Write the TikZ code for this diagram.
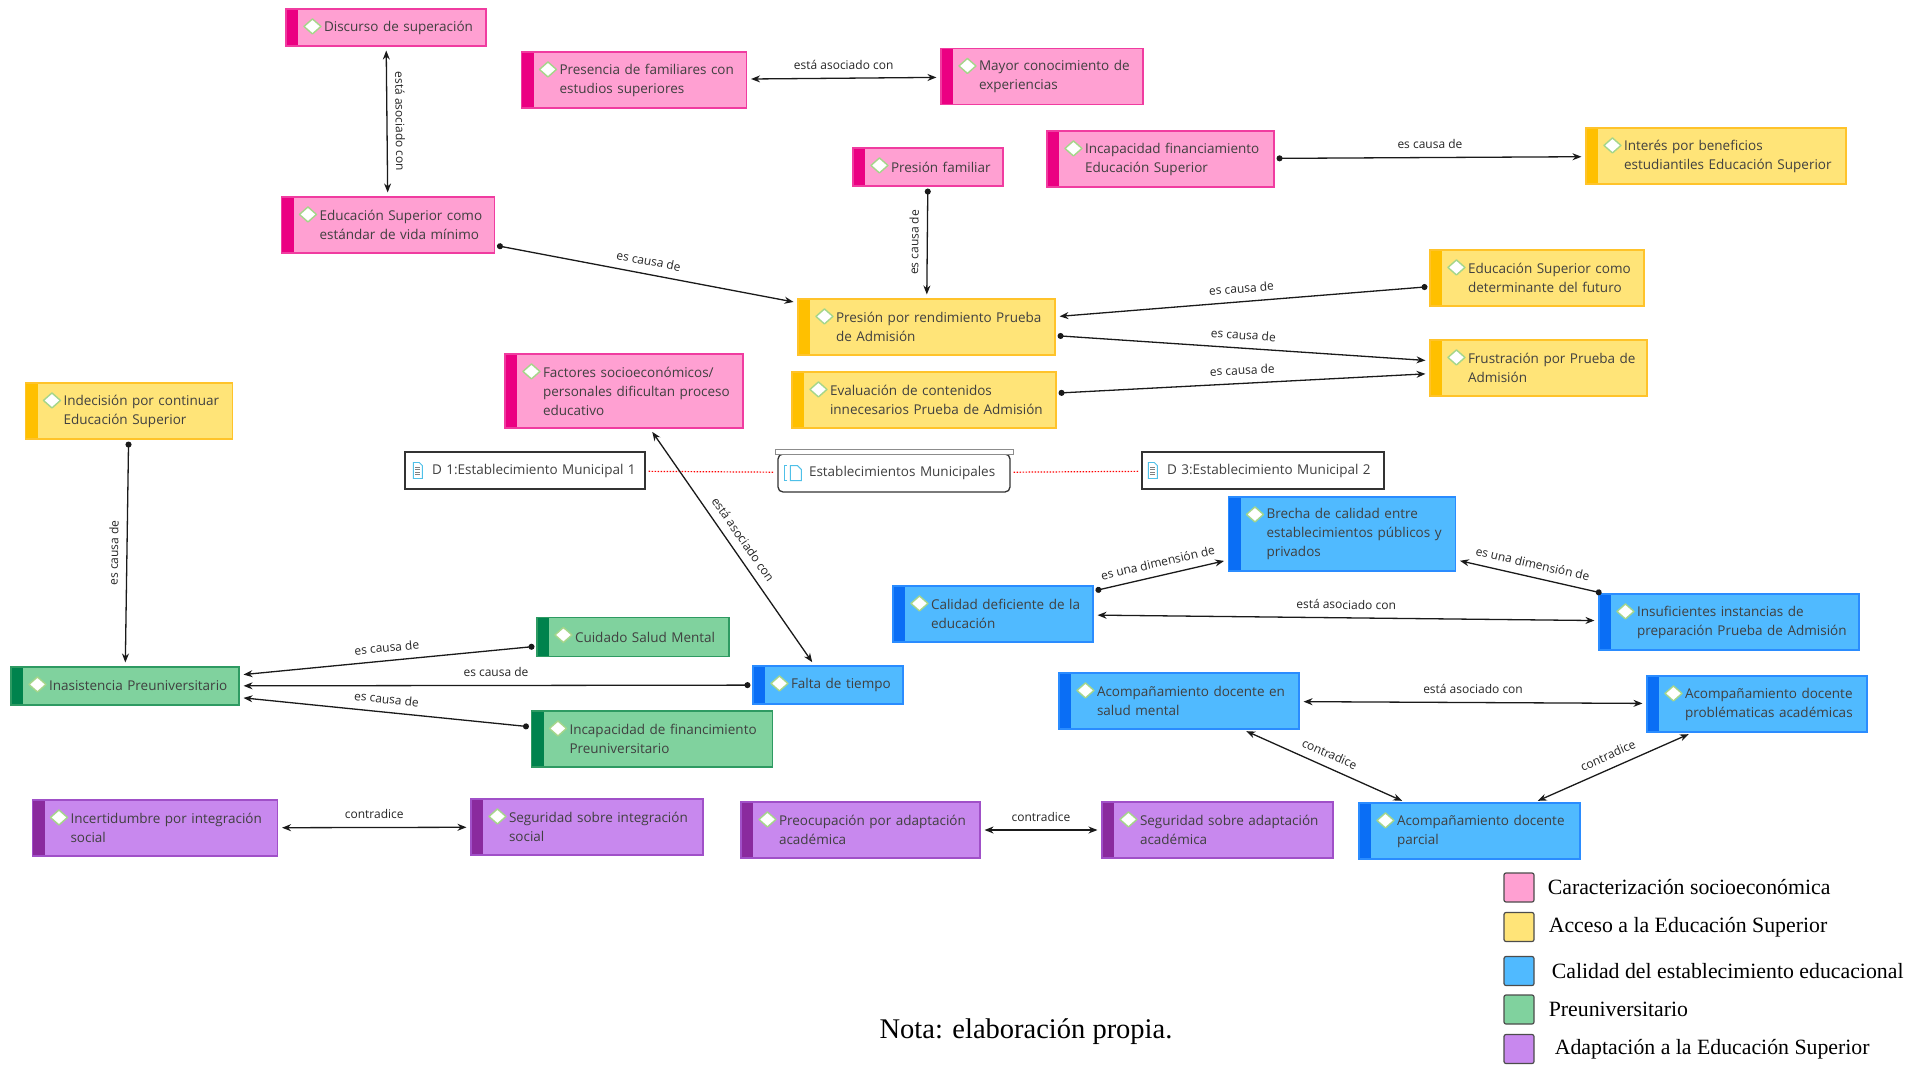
\documentclass[tikz,border=0pt]{standalone}
\usepackage{fontspec}
\setmainfont{Open Sans}
\newfontfamily\romanfont{Liberation Serif}
\usetikzlibrary{arrows.meta,positioning}

\definecolor{rosaFondo}{HTML}{FFA0D2}
\definecolor{rosaBorde}{HTML}{F03CA0}
\definecolor{rosaFranja}{HTML}{EB0082}
\definecolor{amaFondo}{HTML}{FFE478}
\definecolor{amaBorde}{HTML}{FFC32A}
\definecolor{amaFranja}{HTML}{FFC000}
\definecolor{azulFondo}{HTML}{50BAFF}
\definecolor{azulBorde}{HTML}{2A8CFF}
\definecolor{azulFranja}{HTML}{0A6EF5}
\definecolor{verdeFondo}{HTML}{80D29E}
\definecolor{verdeBorde}{HTML}{2E9A62}
\definecolor{verdeFranja}{HTML}{00834D}
\definecolor{moraFondo}{HTML}{C888EE}
\definecolor{moraBorde}{HTML}{A050C8}
\definecolor{moraFranja}{HTML}{8A2A9E}
\definecolor{textogris}{HTML}{404040}
\definecolor{romboverde}{HTML}{A5D68A}
\definecolor{iconoazul}{HTML}{4FC0E8}
\definecolor{flecha}{HTML}{1A1A1A}

\begin{document}
\begin{tikzpicture}[x=1pt,y=1pt]
	\tikzset{concepto/.style n args={3}{draw=#2,fill=#1,line width=1.1pt,inner xsep=0pt,inner ysep=0pt,align=left,text=textogris,
		font=\fontsize{13.5}{19}\selectfont,execute at begin node={\leftskip=38pt\rightskip=-30pt plus 1fil\relax},
		path picture={\fill[#3] (path picture bounding box.south west) rectangle ([xshift=12pt]path picture bounding box.north west);}},
		caja/.style 2 args={text width=#1,minimum height=#2},
		rosa/.style={concepto={rosaFondo}{rosaBorde}{rosaFranja}},
		amarillo/.style={concepto={amaFondo}{amaBorde}{amaFranja}},
		azul/.style={concepto={azulFondo}{azulBorde}{azulFranja}},
		verde/.style={concepto={verdeFondo}{verdeBorde}{verdeFranja}},
		morado/.style={concepto={moraFondo}{moraBorde}{moraFranja}},
		documento/.style 2 args={draw=black!80,line width=1.3pt,fill=white,inner xsep=0pt,inner ysep=0pt,minimum height=37pt,text width=#1,
		align=left,text=textogris,font=\fontsize{13.5}{16}\selectfont,execute at begin node={\leftskip=#2\rightskip=-30pt plus 1fil\relax}}}
	\tikzstyle{rombo}=[draw=romboverde,fill=white,line width=1.4pt,line join=round]
	\tikzstyle{icono}=[draw=iconoazul,fill=white,line width=1pt]
	\tikzstyle{causa}=[{Circle[length=6pt]}-{Stealth[length=9pt,width=7pt]},line width=1.3pt,draw=flecha,shorten <=2pt,shorten >=4pt]
	\tikzstyle{asocia}=[{Stealth[length=9pt,width=7pt]}-{Stealth[length=9pt,width=7pt]},line width=1.3pt,draw=flecha,shorten <=4pt,shorten >=4pt]
	\tikzstyle{etiqueta}=[midway,sloped,anchor=south,inner xsep=0pt,inner ysep=8pt,font=\fontsize{12}{14}\selectfont,text=black!85]
	\tikzstyle{cuadro}=[draw=black!70,line width=1.2pt,rounded corners=2pt,minimum width=30pt,minimum height=29pt,inner sep=0pt]
	\tikzstyle{leyenda}=[font=\romanfont\fontsize{21.8}{24}\selectfont,inner sep=0pt]
	\fill[white] (0,0) rectangle (1925,-1065);
	\useasboundingbox (0,0) rectangle (1925,-1065);
	% caracterizacion socioeconomica
	\node[rosa,caja={200pt}{37pt}] (discurso) at (386,-27.5) {Discurso de superación};
	\node[rosa,caja={225pt}{56pt}] (presencia) at (634,-80) {Presencia de familiares con\\estudios superiores};
	\node[rosa,caja={202pt}{56pt}] (mayor) at (1042,-76.5) {Mayor conocimiento de\\experiencias};
	\node[rosa,caja={150pt}{38pt}] (presfam) at (928,-167) {Presión familiar};
	\node[rosa,caja={227pt}{56pt}] (incapfin) at (1160.5,-159) {Incapacidad financiamiento\\Educación Superior};
	\node[rosa,caja={213pt}{56pt}] (estandar) at (388,-225) {Educación Superior como\\estándar de vida mínimo};
	\node[rosa,caja={238pt}{74pt}] (factores) at (624,-391) {Factores socioeconómicos/\\personales dificultan proceso\\educativo};
	% acceso a la educacion superior
	\node[amarillo,caja={260pt}{56pt}] (interes) at (1716,-156) {Interés por beneficios\\estudiantiles Educación Superior};
	\node[amarillo,caja={214pt}{56pt}] (determinante) at (1537,-278) {Educación Superior como\\determinante del futuro};
	\node[amarillo,caja={257pt}{56pt}] (presrend) at (926.5,-327) {Presión por rendimiento Prueba\\de Admisión};
	\node[amarillo,caja={217pt}{56pt}] (frustracion) at (1538.5,-368) {Frustración por Prueba de\\Admisión};
	\node[amarillo,caja={264pt}{56pt}] (evaluacion) at (924,-400) {Evaluación de contenidos\\innecesarios Prueba de Admisión};
	\node[amarillo,caja={207pt}{56pt}] (indecision) at (129,-411) {Indecisión por continuar\\Educación Superior};
	% documentos
	\node[documento={240pt}{27pt}] (d1) at (525,-470.5) {D 1:Establecimiento Municipal 1};
	\node[documento={232pt}{31pt},minimum height=38pt,rounded corners=5pt] (estmun) at (894,-473) {Establecimientos Municipales};
	\node[documento={242pt}{25pt}] (d3) at (1263,-470.5) {D 3:Establecimiento Municipal 2};
	\draw[draw=black!45,fill=white,line width=1.2pt] ([xshift=-2pt,yshift=-1pt]estmun.north west) rectangle ([xshift=3pt,yshift=4pt]estmun.north east);
	\draw[red,line width=1.2pt,dash pattern=on 1.5pt off 1.5pt,shorten <=3pt,shorten >=3pt] (d1) -- (estmun);
	\draw[red,line width=1.2pt,dash pattern=on 1.5pt off 1.5pt,shorten <=3pt,shorten >=3pt] (estmun) -- (d3);
	% iconos de los documentos
	\foreach \d/\dx in {d1/9,d3/7} {
		\draw[icono,line width=0.9pt] ([xshift=\dx pt,yshift=-8pt]\d.west) -- ++(0,16) -- ++(6,0) -- ++(3,-3) -- ++(0,-13) -- cycle;
		\foreach \yy in {3.5,1,-1.5,-4}
			\draw[black!50,line width=0.8pt] ([xshift=\dx pt,yshift=\yy pt]\d.west) ++(2,0) -- ++(5,0);
	}
	\draw[icono,fill=none] ([xshift=10pt,yshift=-7.5pt]estmun.west) -- ++(-3,0) -- ++(0,15) -- ++(3,0);
	\draw[icono] ([xshift=13pt,yshift=-7.5pt]estmun.west) -- ++(0,15) -- ++(7,0) -- ++(4,-4) -- ++(0,-11) -- cycle;
	% calidad del establecimiento
	\node[azul,caja={227pt}{74pt}] (brecha) at (1342,-534) {Brecha de calidad entre\\establecimientos públicos y\\privados};
	\node[azul,caja={200pt}{56pt}] (calidad) at (993,-614) {Calidad deficiente de la\\educación};
	\node[azul,caja={260pt}{56pt}] (insuf) at (1729,-622) {Insuficientes instancias de\\preparación Prueba de Admisión};
	\node[azul,caja={150pt}{38pt}] (falta) at (828,-685) {Falta de tiempo};
	\node[azul,caja={240pt}{56pt}] (salud) at (1179,-701) {Acompañamiento docente en\\salud mental};
	\node[azul,caja={220pt}{56pt}] (problem) at (1757,-704) {Acompañamiento docente\\problématicas académicas};
	\node[azul,caja={221pt}{56pt}] (parcial) at (1469.5,-831) {Acompañamiento docente\\parcial};
	% preuniversitario
	\node[verde,caja={192pt}{39pt}] (cuidado) at (633,-637) {Cuidado Salud Mental};
	\node[verde,caja={228pt}{38pt}] (inasistencia) at (125,-686) {Inasistencia Preuniversitario};
	\node[verde,caja={241pt}{56pt}] (incappreu) at (652,-739) {Incapacidad de financimiento\\Preuniversitario};
	% adaptacion
	\node[morado,caja={245pt}{56pt}] (incert) at (155,-828) {Incertidumbre por integración\\social};
	\node[morado,caja={232pt}{56pt}] (segint) at (587,-827) {Seguridad sobre integración\\social};
	\node[morado,caja={239pt}{56pt}] (preoc) at (860.5,-830) {Preocupación por adaptación\\académica};
	\node[morado,caja={231pt}{56pt}] (segadap) at (1217.5,-830) {Seguridad sobre adaptación\\académica};
	% rombos
	\foreach \n in {discurso,presencia,mayor,presfam,incapfin,estandar,factores,interes,determinante,presrend,frustracion,evaluacion,indecision,
		brecha,calidad,insuf,falta,salud,problem,parcial,cuidado,inasistencia,incappreu,incert,segint,preoc,segadap}
		\draw[rombo] ([xshift=27pt,yshift=-10.5pt]\n.north west) -- ++(8.5,-7.5) -- ++(-8.5,-7.5) -- ++(-8.5,7.5) -- cycle;
	% relaciones
	\draw[asocia] (discurso) -- (estandar) node[etiqueta] (e1) {está asociado con};
	\draw[asocia] (presencia) -- (mayor) node[etiqueta] (e2) {está asociado con};
	\draw[causa] (presfam) -- (presrend) node[etiqueta] (e3) {es causa de};
	\draw[causa] (incapfin) -- (interes) node[etiqueta] (e4) {es causa de};
	\draw[causa] (estandar) -- (presrend) node[etiqueta] (e5) {es causa de};
	\draw[causa] (determinante) -- (presrend) node[etiqueta] (e6) {es causa de};
	\draw[causa] (presrend) -- (frustracion) node[etiqueta] (e7) {es causa de};
	\draw[causa] (evaluacion) -- (frustracion) node[etiqueta] (e8) {es causa de};
	\draw[causa] (indecision) -- (inasistencia) node[etiqueta] (e9) {es causa de};
	\draw[asocia] (factores) -- (falta) node[etiqueta] (e10) {está asociado con};
	\draw[causa] (cuidado) -- (inasistencia) node[etiqueta] (e11) {es causa de};
	\draw[causa] (falta) -- (inasistencia) node[etiqueta] (e12) {es causa de};
	\draw[causa] (incappreu) -- (inasistencia) node[etiqueta] (e13) {es causa de};
	\draw[asocia] (incert) -- (segint) node[etiqueta] (e14) {contradice};
	\draw[asocia] (preoc) -- (segadap) node[etiqueta] (e15) {contradice};
	\draw[causa] (calidad) -- (brecha) node[etiqueta] (e16) {es una dimensión de};
	\draw[causa] (insuf) -- (brecha) node[etiqueta] (e17) {es una dimensión de};
	\draw[asocia] (calidad) -- (insuf) node[etiqueta] (e18) {está asociado con};
	\draw[asocia] (salud) -- (problem) node[etiqueta] (e19) {está asociado con};
	\draw[asocia] (salud) -- (parcial) node[etiqueta] (e20) {contradice};
	\draw[asocia] (parcial) -- (problem) node[etiqueta] (e21) {contradice};
	% leyenda
	\node[cuadro,fill=rosaFondo] (c1) at (1519,-887.5) {};
	\node[cuadro,fill=amaFondo] (c2) at (1519,-927) {};
	\node[cuadro,fill=azulFondo] (c3) at (1519,-971) {};
	\node[cuadro,fill=verdeFondo] (c4) at (1519,-1009.5) {};
	\node[cuadro,fill=moraFondo] (c5) at (1519,-1049) {};
	\node[leyenda,right=13pt of c1] (t1) {Caracterización socioeconómica};
	\node[leyenda,right=14pt of c2] (t2) {Acceso a la Educación Superior};
	\node[leyenda,right=17pt of c3] (t3) {Calidad del establecimiento educacional};
	\node[leyenda,right=14pt of c4] (t4) {Preuniversitario};
	\node[leyenda,right=20pt of c5] (t5) {Adaptación a la Educación Superior};
	\node[font=\romanfont\fontsize{28.5}{32}\selectfont,anchor=base,inner sep=0pt] (nota) at (1026,-1038) {Nota: elaboración propia.};
\end{tikzpicture}
\end{document}
